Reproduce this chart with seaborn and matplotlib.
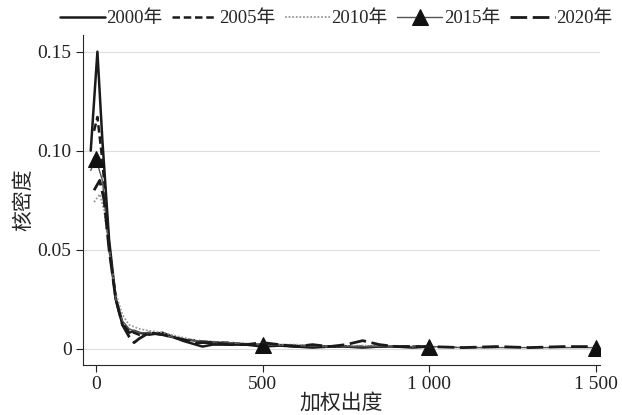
import pandas as pd
import matplotlib.pyplot as plt
import seaborn as sns
import numpy as np

# kernel density curves of weighted out-degree
x2000 = [-15, 5, 20, 40, 60, 80, 100, 115, 130, 160, 200, 230, 260, 300, 320, 350, 400, 450, 500, 550, 600, 650, 700, 750, 800, 850, 900, 950, 1000]
y2000 = [0.100, 0.150, 0.105, 0.055, 0.025, 0.012, 0.008, 0.009, 0.008, 0.007, 0.008, 0.006, 0.004, 0.002, 0.001, 0.002, 0.002, 0.002, 0.001, 0.0015, 0.001, 0.0005, 0.001, 0.001, 0.0005, 0.001, 0.001, 0.0005, 0.001]

x2005 = [-5, 5, 20, 40, 60, 80, 100, 130, 160, 200, 250, 300, 350, 400, 450, 500, 600, 700, 800, 900, 1000]
y2005 = [0.110, 0.117, 0.095, 0.052, 0.025, 0.013, 0.009, 0.007, 0.008, 0.007, 0.005, 0.004, 0.003, 0.003, 0.002, 0.002, 0.0015, 0.001, 0.001, 0.001, 0.001]

x2010 = [-5, 12, 25, 40, 60, 80, 100, 130, 160, 200, 250, 300, 400, 500, 600, 700, 800, 900, 1000, 1100, 1200]
y2010 = [0.074, 0.078, 0.070, 0.050, 0.028, 0.017, 0.012, 0.010, 0.009, 0.008, 0.006, 0.004, 0.003, 0.002, 0.002, 0.001, 0.0015, 0.001, 0.001, 0.0005, 0.0005]

x2015 = [-15, 0, 20, 40, 60, 80, 100, 130, 160, 200, 250, 300, 400, 500, 600, 700, 800, 900, 1000, 1100, 1200, 1300, 1400, 1500]
y2015 = [0.090, 0.096, 0.085, 0.050, 0.025, 0.014, 0.010, 0.008, 0.008, 0.007, 0.005, 0.004, 0.003, 0.002, 0.0015, 0.001, 0.001, 0.001, 0.001, 0.0005, 0.0005, 0.0005, 0.0005, 0.0005]
marks2015 = [1, 13, 18, 23]  # points carrying a triangle (x = 0, 500, 1000, 1500)

x2020 = [-5, 12, 25, 40, 60, 80, 100, 115, 130, 160, 200, 250, 300, 350, 400, 450, 500, 550, 600, 650, 700, 750, 800, 850, 900, 1000, 1100, 1200, 1300, 1400, 1500]
y2020 = [0.080, 0.085, 0.075, 0.050, 0.025, 0.012, 0.006, 0.003, 0.005, 0.008, 0.007, 0.005, 0.003, 0.003, 0.002, 0.002, 0.003, 0.002, 0.001, 0.002, 0.001, 0.002, 0.004, 0.002, 0.001, 0.001, 0.0005, 0.001, 0.0005, 0.001, 0.001]

xticks = [0, 500, 1000, 1500]
xticklabels = ['0', '500', '1 000', '1 500']
yticks = [0, 0.05, 0.10, 0.15]
yticklabels = ['0', '0.05', '0.10', '0.15']

sns.set_style('ticks')
plt.rcParams['font.family'] = ['Liberation Serif', 'Noto Sans CJK SC']

fig = plt.figure(figsize=(6.22, 4.15), dpi=100)
ax = fig.add_axes([0.133, 0.12, 0.832, 0.796])

sns.lineplot(x=x2000, y=y2000, ax=ax, color='#1a1a1a', lw=1.8, ls='-', label='2000年')
sns.lineplot(x=x2005, y=y2005, ax=ax, color='#1a1a1a', lw=1.8, ls=(0, (3, 1.5)), label='2005年')
sns.lineplot(x=x2010, y=y2010, ax=ax, color='#999999', lw=1.3, ls=(0, (1, 1)), label='2010年')
sns.lineplot(x=x2015, y=y2015, ax=ax, color='#555555', lw=1.0, ls='-', marker='^',
             markersize=11, markerfacecolor='#111111', markeredgecolor='#111111',
             markevery=marks2015, label='2015年')
sns.lineplot(x=x2020, y=y2020, ax=ax, color='#1a1a1a', lw=2.0, ls=(0, (6, 2)), label='2020年')

ax.set_xlim(-39, 1512)
ax.set_ylim(-0.0084, 0.1585)
ax.set_xticks(xticks)
ax.set_xticklabels(xticklabels)
ax.set_yticks(yticks)
ax.set_yticklabels(yticklabels)
ax.yaxis.grid(True, color='#dddddd', lw=0.8)
ax.set_axisbelow(True)
sns.despine(ax=ax)
ax.tick_params(colors='#222222', labelsize=14, length=5, pad=3)
ax.set_xlabel('加权出度', fontsize=15, labelpad=0)
ax.set_ylabel('核密度', fontsize=15, labelpad=2)

ax.legend(loc='lower center', bbox_to_anchor=(0.49, 1.0), ncol=5, frameon=False,
          fontsize=13.5, handlelength=2.4, handletextpad=0.1, columnspacing=0.5,
          borderaxespad=0.0)

fig.savefig('out.png', dpi=100)
